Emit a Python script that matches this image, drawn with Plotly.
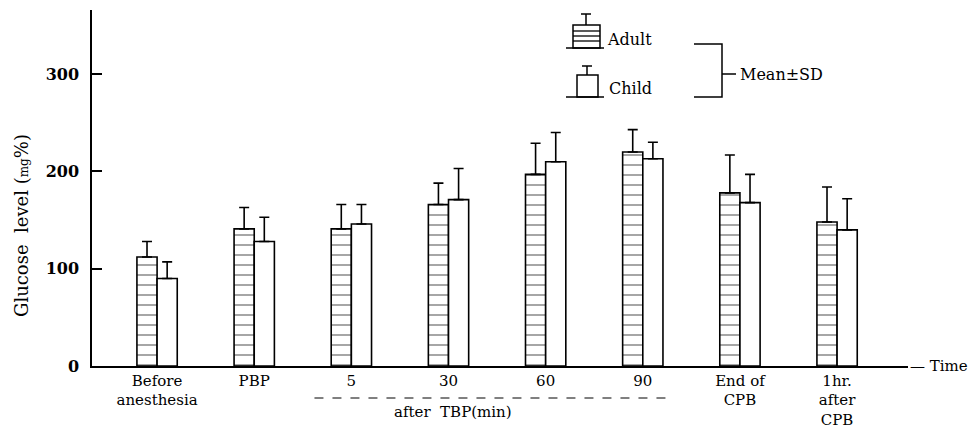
import plotly.graph_objects as go

categories = ["Before<br>anesthesia", "PBP", "5", "30", "60", "90", "End of<br>CPB", "1hr.<br>after<br>CPB"]
adult_mean = [112, 141, 141, 166, 197, 220, 178, 148]
adult_sd = [16, 22, 25, 22, 32, 23, 39, 36]
child_mean = [90, 128, 146, 171, 210, 213, 168, 140]
child_sd = [17, 25, 20, 32, 30, 17, 29, 32]
y_ticks = [0, 100, 200, 300]

W, H = 974, 434
ML, MR, MT, MB = 92, 66, 10, 68
PW, PH = W - ML - MR, H - MT - MB

def px(x):
    return (x - ML) / PW

def py(y):
    return (H - MB - y) / PH

SERIF = "DejaVu Serif"
xs = list(range(len(categories)))

fig = go.Figure()
fig.add_trace(go.Bar(
    x=xs, y=adult_mean, name="Adult",
    marker=dict(color="white", line=dict(color="black", width=1.6),
                pattern=dict(shape="-", size=10, solidity=0.14, fgcolor="black", bgcolor="white")),
    error_y=dict(type="data", symmetric=False, array=adult_sd, arrayminus=[0]*len(adult_sd),
                 color="black", thickness=1.6, width=5),
))
fig.add_trace(go.Bar(
    x=xs, y=child_mean, name="Child",
    marker=dict(color="white", line=dict(color="black", width=1.6)),
    error_y=dict(type="data", symmetric=False, array=child_sd, arrayminus=[0]*len(child_sd),
                 color="black", thickness=1.6, width=5),
))

shapes = []
ann = []
line = dict(color="black", width=1.5)
# legend: adult symbol
shapes.append(dict(type="rect", xref="paper", yref="paper", x0=px(573), x1=px(600), y0=py(48), y1=py(25), line=line, fillcolor="white"))
for yy in (31, 36, 41):
    shapes.append(dict(type="line", xref="paper", yref="paper", x0=px(573), x1=px(600), y0=py(yy), y1=py(yy), line=dict(color="black", width=1.3)))
shapes.append(dict(type="line", xref="paper", yref="paper", x0=px(566), x1=px(604), y0=py(48), y1=py(48), line=line))
shapes.append(dict(type="line", xref="paper", yref="paper", x0=px(586), x1=px(586), y0=py(25), y1=py(14), line=line))
shapes.append(dict(type="line", xref="paper", yref="paper", x0=px(581), x1=px(591), y0=py(14), y1=py(14), line=line))
# legend: child symbol
shapes.append(dict(type="rect", xref="paper", yref="paper", x0=px(577), x1=px(598), y0=py(97), y1=py(75), line=line, fillcolor="white"))
shapes.append(dict(type="line", xref="paper", yref="paper", x0=px(566), x1=px(604), y0=py(97), y1=py(97), line=line))
shapes.append(dict(type="line", xref="paper", yref="paper", x0=px(587), x1=px(587), y0=py(75), y1=py(66), line=line))
shapes.append(dict(type="line", xref="paper", yref="paper", x0=px(582), x1=px(592), y0=py(66), y1=py(66), line=line))
# bracket
shapes.append(dict(type="path", xref="paper", yref="paper",
                   path=f"M {px(694)} {py(44)} L {px(722)} {py(44)} L {px(722)} {py(97)} L {px(694)} {py(97)}",
                   line=line))
shapes.append(dict(type="line", xref="paper", yref="paper", x0=px(722), x1=px(736), y0=py(74), y1=py(74), line=line))
ann.append(dict(text="Adult", xref="paper", yref="paper", x=px(605), y=py(40), xanchor="left", yanchor="middle",
                showarrow=False, font=dict(family=SERIF, size=16, color="black")))
ann.append(dict(text="Child", xref="paper", yref="paper", x=px(607), y=py(88), xanchor="left", yanchor="middle",
                showarrow=False, font=dict(family=SERIF, size=16, color="black")))
ann.append(dict(text="Mean±SD", xref="paper", yref="paper", x=px(738), y=py(75), xanchor="left", yanchor="middle",
                showarrow=False, font=dict(family=SERIF, size=16, color="black")))
# after TBP
shapes.append(dict(type="line", xref="x", yref="paper", x0=1.62, x1=5.3, y0=py(398), y1=py(398),
                   line=dict(color="black", width=1, dash="dash")))
ann.append(dict(text="after  TBP(min)", xref="x", yref="paper", x=3.05, y=py(412), xanchor="center", yanchor="middle",
                showarrow=False, font=dict(family=SERIF, size=15, color="black")))
# Time
ann.append(dict(text="— Time", xref="paper", yref="paper", x=px(908), y=py(366), xanchor="left", yanchor="middle",
                showarrow=False, font=dict(family=SERIF, size=15, color="black")))
# y title
ann.append(dict(text="Glucose  level (<span style='font-size:12px'>mg</span>%)", xref="paper", yref="paper",
                x=px(22), y=py(226), xanchor="center", yanchor="middle", textangle=-90, showarrow=False,
                font=dict(family=SERIF, size=18, color="black")))

fig.update_layout(
    width=W, height=H,
    margin=dict(l=ML, r=MR, t=MT, b=MB, pad=0),
    paper_bgcolor="white", plot_bgcolor="white",
    barmode="group", bargap=0.585, bargroupgap=0,
    showlegend=False,
    shapes=shapes, annotations=ann,
    xaxis=dict(range=[-0.67, 7.73], tickvals=xs, ticktext=categories, showline=True, linecolor="black",
               linewidth=1.5, ticks="", showgrid=False, zeroline=False, automargin=False,
               tickfont=dict(family=SERIF, size=15, color="black")),
    yaxis=dict(range=[0, 366], tickvals=y_ticks, showline=True, linecolor="black", linewidth=1.5,
               ticks="inside", ticklen=10, tickwidth=1.5, tickcolor="black", showgrid=False, zeroline=False,
               automargin=False, ticklabelstandoff=8,
               tickfont=dict(family=SERIF, size=16, color="black", weight="bold")),
)

fig.write_html("out.html")
